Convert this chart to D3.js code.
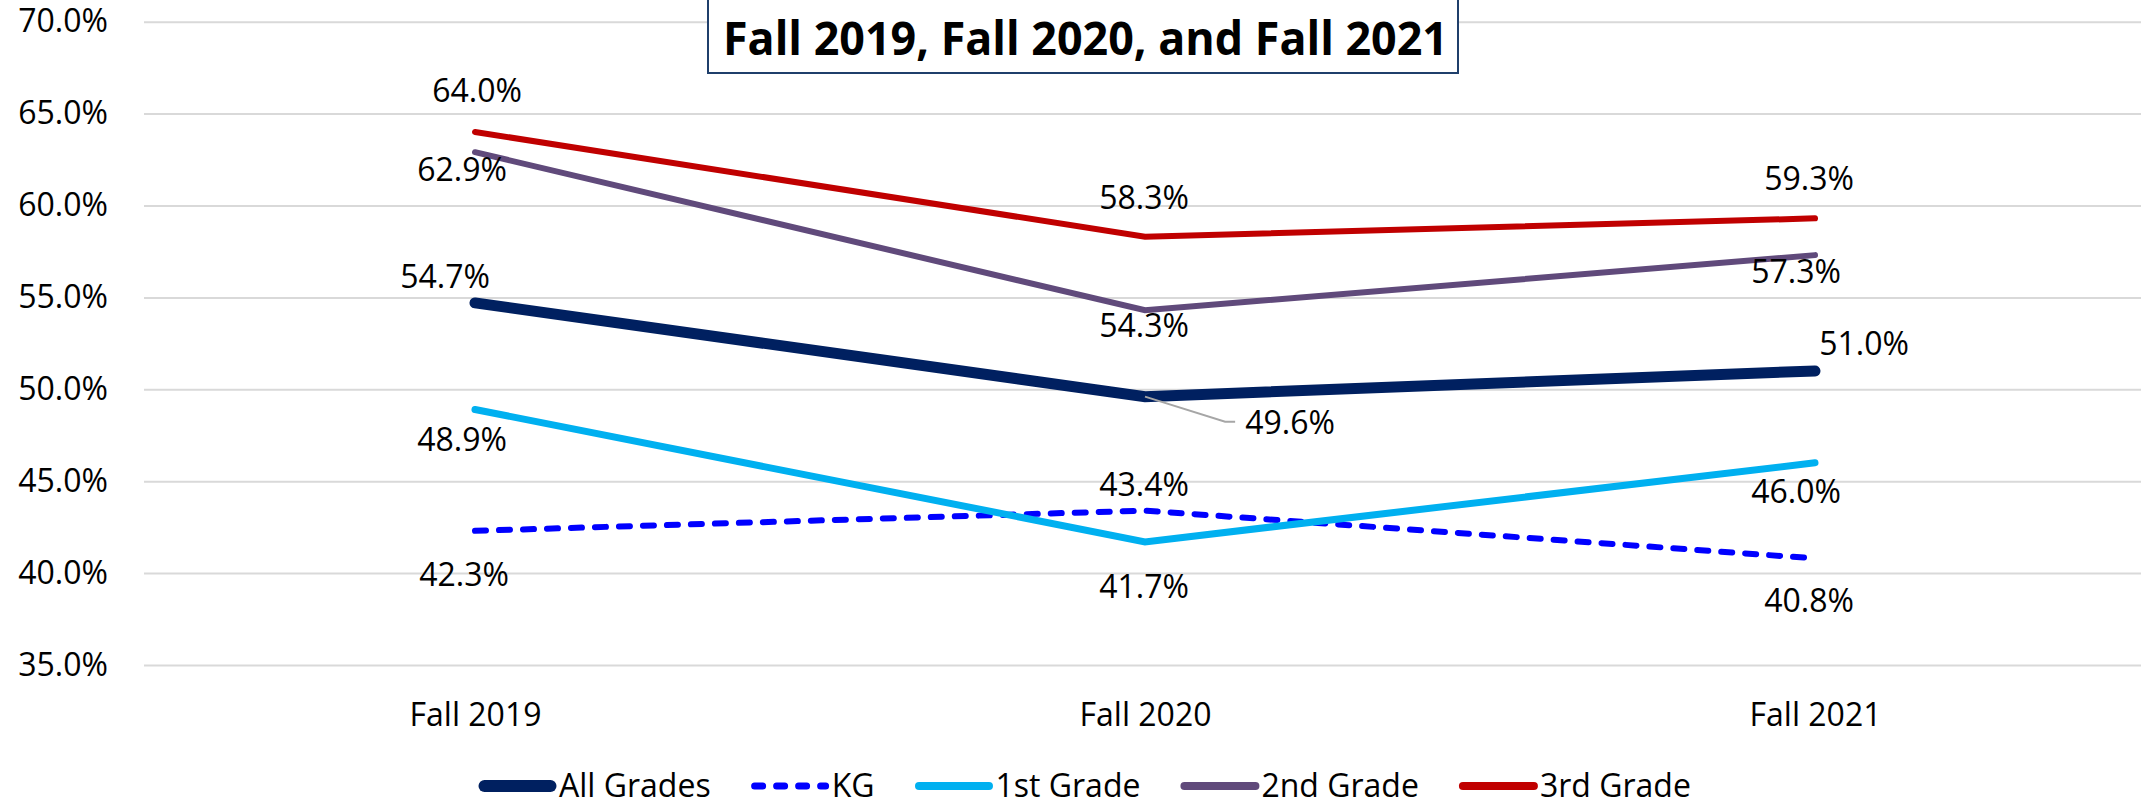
<!DOCTYPE html>
<html>
<head>
<meta charset="utf-8">
<script src="https://cdn.jsdelivr.net/npm/d3@7"></script>
<style>
  body { margin: 0; background: #fff; }
  text { font-family: "Open Sans", "Noto Sans", sans-serif; fill: #000; }
</style>
</head>
<body>
<script>
var width = 2141,
    height = 801;

// data
var categories = ["Fall 2019", "Fall 2020", "Fall 2021"];
var seriesNames = ["All Grades", "KG", "1st Grade", "2nd Grade", "3rd Grade"];
var allGrades = [54.7, 49.6, 51.0];
var kg = [42.3, 43.4, 40.8];
var grade1 = [48.9, 41.7, 46.0];
var grade2 = [62.9, 54.3, 57.3];
var grade3 = [64.0, 58.3, 59.3];
var yTicks = [35, 40, 45, 50, 55, 60, 65, 70];
var title = "Fall 2019, Fall 2020, and Fall 2021";

// looks of each series
var styles = [
    { color: "#002060", w: 11, dash: null },
    { color: "#0000FF", w: 6, dash: "11,13" },
    { color: "#00B0F0", w: 7, dash: null },
    { color: "#604A7B", w: 6, dash: null },
    { color: "#C00000", w: 6, dash: null }
];
// label offsets (label centre relative to the point)
var labelOffsets = [
    [[-30, -26], [145, 26], [49, -27]],
    [[-11, 44], [-1, -26], [-6, 43]],
    [[-13, 30], [-1, 45], [-19, 29]],
    [[-13, 18], [-1, 16], [-19, 17]],
    [[2, -41], [-1, -39], [-6, -39]]
];

var values = [allGrades, kg, grade1, grade2, grade3];
var series = seriesNames.map(function (n, i) {
    return { name: n, values: values[i], style: styles[i], offsets: labelOffsets[i] };
});

var svg = d3.select("body").append("svg")
    .attr("width", width)
    .attr("height", height);

var x = d3.scalePoint()
    .domain(categories)
    .range([140, 2150])
    .padding(0.5);

var y = d3.scaleLinear()
    .domain([35, 70])
    .range([665, 21.7]);

var gridLeft = 144;

// y axis + gridlines
var yAxis = svg.append("g")
    .attr("transform", "translate(" + gridLeft + ",0)")
    .call(d3.axisLeft(y)
        .tickValues(yTicks)
        .tickSize(-(width - gridLeft))
        .tickPadding(36)
        .tickFormat(function (d) { return d.toFixed(1) + "%"; }));
yAxis.select(".domain").remove();
yAxis.selectAll("line").attr("stroke", "#d9d9d9").attr("stroke-width", 2);
yAxis.selectAll("text").style("font-size", "32px").style("font-family", null).attr("fill", "#000");

// x axis
var xAxis = svg.append("g")
    .attr("transform", "translate(0," + y(35) + ")")
    .call(d3.axisBottom(x).tickSize(0).tickPadding(38));
xAxis.select(".domain").remove();
xAxis.selectAll("text").style("font-size", "32px").style("font-family", null).attr("fill", "#000");

// lines
var line = d3.line()
    .x(function (d, i) { return x(categories[i]); })
    .y(function (d) { return y(d); });

svg.selectAll(".series")
    .data(series)
    .enter().append("path")
    .attr("class", "series")
    .attr("d", function (d) { return line(d.values); })
    .attr("fill", "none")
    .attr("stroke", function (d) { return d.style.color; })
    .attr("stroke-width", function (d) { return d.style.w; })
    .attr("stroke-dasharray", function (d) { return d.style.dash; })
    .attr("stroke-linecap", "round")
    .attr("stroke-linejoin", "miter");

// data labels
var labels = [];
series.forEach(function (s) {
    s.values.forEach(function (v, i) {
        labels.push({ v: v, px: x(categories[i]), py: y(v), dx: s.offsets[i][0], dy: s.offsets[i][1] });
    });
});

var lab = svg.selectAll(".dlabel")
    .data(labels)
    .enter().append("text")
    .attr("class", "dlabel")
    .attr("x", function (d) { return d.px + d.dx; })
    .attr("y", function (d) { return d.py + d.dy + 11; })
    .attr("text-anchor", "middle")
    .style("font-size", "32px")
    .text(function (d) { return d.v.toFixed(1) + "%"; });

// leader line for the label that was moved away (49.6%)
lab.each(function (d) {
    if (Math.abs(d.dx) > 100) {
        var bb = this.getBBox();
        var lx = bb.x, ly = d.py + d.dy - 1;
        svg.append("polyline")
            .attr("points", [[d.px, d.py], [lx - 20, ly], [lx - 10, ly]].join(" "))
            .attr("fill", "none")
            .attr("stroke", "#A6A6A6")
            .attr("stroke-width", 2);
    }
});

// title box
var tbox = svg.append("g");
tbox.append("rect")
    .attr("x", 708).attr("y", -4)
    .attr("width", 750).attr("height", 77)
    .attr("fill", "#fff")
    .attr("stroke", "#1F3F6B")
    .attr("stroke-width", 2);
tbox.append("text")
    .attr("x", 723).attr("y", 55)
    .attr("textLength", 725)
    .attr("lengthAdjust", "spacingAndGlyphs")
    .style("font-size", "46px")
    .style("font-weight", "bold")
    .text(title);

// legend
var legend = svg.append("g");
var lx = 478, legendY = 786;
series.forEach(function (s) {
    var g = legend.append("g").attr("transform", "translate(" + lx + "," + legendY + ")");
    var cap = s.style.w / 2;
    var w = Math.max(s.style.w, 7);
    g.append("line")
        .attr("x1", cap + 1).attr("x2", 78 - cap)
        .attr("y1", 0).attr("y2", 0)
        .attr("stroke", s.style.color)
        .attr("stroke-width", s.name === "All Grades" ? 12 : (s.style.dash ? 7 : w + 1))
        .attr("stroke-dasharray", s.style.dash ? "8,14" : null)
        .attr("stroke-linecap", "round");
    var t = g.append("text")
        .attr("x", 81)
        .attr("y", 11)
        .style("font-size", "32px")
        .text(s.name);
    lx += 81 + t.node().getComputedTextLength() + 40;
});
</script>
</body>
</html>
